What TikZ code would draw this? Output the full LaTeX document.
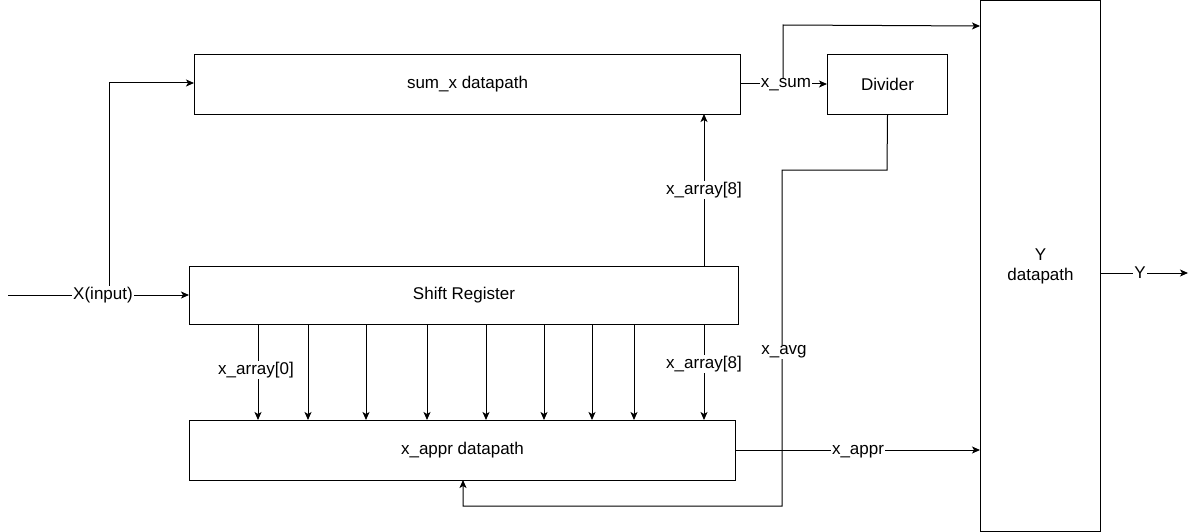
\documentclass[tikz,border=0pt]{standalone}
\usepackage{fontspec}
\setmainfont{Liberation Sans}
\usetikzlibrary{arrows.meta}
\begin{document}
\begin{tikzpicture}[x=1pt,y=-1pt,
  box/.style={draw,line width=1pt,inner sep=0pt,anchor=north west,font=\fontsize{17}{20}\selectfont,align=center},
  lbl/.style={fill=white,inner sep=1pt,font=\fontsize{17}{20}\selectfont},
  wire/.style={line width=1pt},
  arr/.style={line width=1pt,-{Stealth[length=8pt,width=7pt,inset=2pt]}}]
\useasboundingbox (0,0) rectangle (1196,532);
\node[box,minimum width=546pt,minimum height=60pt] (sum) at (194,54) {sum\_x datapath};
\node[box,minimum width=549pt,minimum height=58pt] (sr) at (189,266) {Shift Register};
\node[box,minimum width=546pt,minimum height=60pt] (appr) at (189,420) {x\_appr datapath};
\node[box,minimum width=120pt,minimum height=60pt] (div) at (827,54) {Divider};
\node[box,minimum width=120pt,minimum height=531pt] (yd) at (980,0) {Y\\datapath};
\coordinate (in) at (8,295);
\coordinate (out) at (1188,273);
% input
\draw[wire] (in) -- (109,295);
\draw[arr] (109,295) -- (109,83) -- (sum.west |- 0,83);
\draw[arr] (109,295) -- (sr.west |- 0,295);
\node[lbl] (xin) at (103,295) {X(input)};
% sum to divider
\draw[arr] (sum.east |- 0,84) -- (div.west |- 0,84);
\draw[arr] (783,84) -- (783,25) -- (yd.west |- 0,26);
\node[lbl] (xsum) at (786,85) {x\_sum};
% x_array[8] up
\draw[arr] (704,266) -- (704,114);
\node[lbl] (xa8u) at (704,190) {x\_array[8]};
% divider to appr
\draw[arr] (div.south) -- (887,170) -- (782,170) -- (782,506) -- (463,506) -- (463,480);
\node[lbl] (xavg) at (784,352) {x\_avg};
% down arrows
\foreach \x in {258,308,366,427,486,544,592,634,704}
  \draw[arr] (\x,324) -- (\x,420);
\node[lbl] (xa0) at (256,370) {x\_array[0]};
\node[lbl] (xa8d) at (704,364) {x\_array[8]};
% appr to Y
\draw[arr] (appr.east |- 0,450) -- (yd.west |- 0,450);
\node[lbl] (xappr) at (858,452) {x\_appr};
% Y out
\draw[arr] (yd.east |- 0,273) -- (out);
\node[lbl] (yl) at (1140,273) {Y};
\end{tikzpicture}
\end{document}
